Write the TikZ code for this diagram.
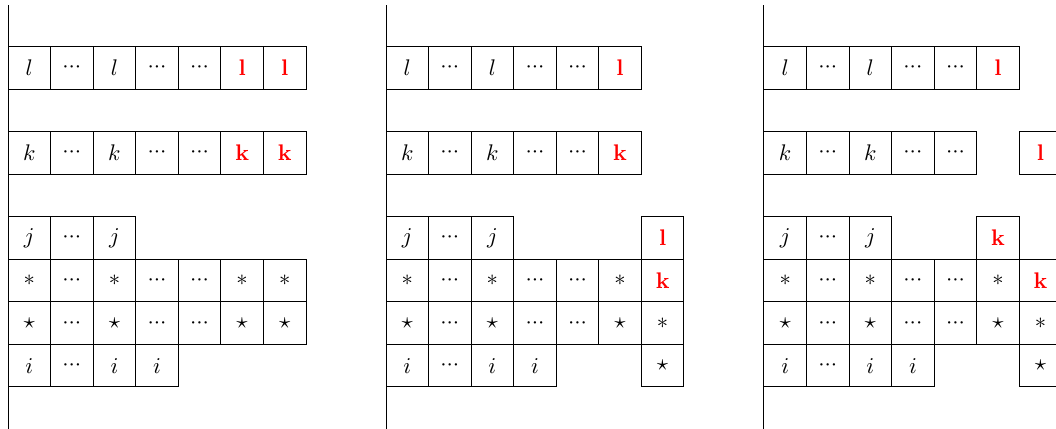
\documentclass[tikz,border=0pt]{standalone}
\usepackage{xcolor}
\usepackage{tikz}
\usepackage{amsmath}
\usepackage{amssymb}
\usetikzlibrary{positioning}
\definecolor{blkHi}{HTML}{FF0000}
\newcommand{\hl}[1]{\textcolor{blkHi}{\mathbf{#1}}}
\newcommand{\dts}{{\cdot}{\cdot}{\cdot}}
\tikzset{
  cell/.style={draw, minimum size=6.62mm, inner sep=0pt, outer sep=0pt,
    anchor=south west, font=\normalsize},
  axisline/.style={black}
}

\begin{document}
\begin{tikzpicture}[x=6.62mm, y=6.62mm]
  \useasboundingbox (-0.188,-0.987) rectangle (24.62,9.09);

  % initial blocks
  \begin{scope}
    \coordinate (a-top) at (0,8.97); \coordinate (a-bot) at (0,-0.987);
    \draw[axisline] (a-top) -- (a-bot);
    \foreach \t [count=\n] in {l,\dts,l,\dts,\dts,\hl{l},\hl{l}}
      \node[cell] (a-l\n) at (\n-1,7) {$\t$};
    \foreach \t [count=\n] in {k,\dts,k,\dts,\dts,\hl{k},\hl{k}}
      \node[cell] (a-k\n) at (\n-1,5) {$\t$};
    \foreach \t [count=\n] in {j,\dts,j}
      \node[cell] (a-j\n) at (\n-1,3) {$\t$};
    \foreach \t [count=\n] in {*,\dts,*,\dts,\dts,*,*}
      \node[cell] (a-s\n) at (\n-1,2) {$\t$};
    \foreach \t [count=\n] in {\star,\dts,\star,\dts,\dts,\star,\star}
      \node[cell] (a-t\n) at (\n-1,1) {$\t$};
    \foreach \t [count=\n] in {i,\dts,i,i}
      \node[cell] (a-i\n) at (\n-1,0) {$\t$};
  \end{scope}

  % after first move
  \begin{scope}[shift={(8.879,0)}]
    \coordinate (b-top) at (0,8.97); \coordinate (b-bot) at (0,-0.987);
    \draw[axisline] (b-top) -- (b-bot);
    \foreach \t [count=\n] in {l,\dts,l,\dts,\dts,\hl{l}}
      \node[cell] (b-l\n) at (\n-1,7) {$\t$};
    \foreach \t [count=\n] in {k,\dts,k,\dts,\dts,\hl{k}}
      \node[cell] (b-k\n) at (\n-1,5) {$\t$};
    \foreach \t [count=\n] in {j,\dts,j}
      \node[cell] (b-j\n) at (\n-1,3) {$\t$};
    \node[cell] (b-j7) at (6,3) {$\hl{l}$};
    \foreach \t [count=\n] in {*,\dts,*,\dts,\dts,*,\hl{k}}
      \node[cell] (b-s\n) at (\n-1,2) {$\t$};
    \foreach \t [count=\n] in {\star,\dts,\star,\dts,\dts,\star,*}
      \node[cell] (b-t\n) at (\n-1,1) {$\t$};
    \foreach \t [count=\n] in {i,\dts,i,i}
      \node[cell] (b-i\n) at (\n-1,0) {$\t$};
    \node[cell] (b-i7) at (6,0) {$\star$};
  \end{scope}

  % after second move
  \begin{scope}[shift={(17.758,0)}]
    \coordinate (c-top) at (0,8.97); \coordinate (c-bot) at (0,-0.987);
    \draw[axisline] (c-top) -- (c-bot);
    \foreach \t [count=\n] in {l,\dts,l,\dts,\dts,\hl{l}}
      \node[cell] (c-l\n) at (\n-1,7) {$\t$};
    \foreach \t [count=\n] in {k,\dts,k,\dts,\dts}
      \node[cell] (c-k\n) at (\n-1,5) {$\t$};
    \node[cell] (c-k7) at (6,5) {$\hl{l}$};
    \foreach \t [count=\n] in {j,\dts,j}
      \node[cell] (c-j\n) at (\n-1,3) {$\t$};
    \node[cell] (c-j6) at (5,3) {$\hl{k}$};
    \foreach \t [count=\n] in {*,\dts,*,\dts,\dts,*,\hl{k}}
      \node[cell] (c-s\n) at (\n-1,2) {$\t$};
    \foreach \t [count=\n] in {\star,\dts,\star,\dts,\dts,\star,*}
      \node[cell] (c-t\n) at (\n-1,1) {$\t$};
    \foreach \t [count=\n] in {i,\dts,i,i}
      \node[cell] (c-i\n) at (\n-1,0) {$\t$};
    \node[cell] (c-i7) at (6,0) {$\star$};
  \end{scope}
\end{tikzpicture}
\end{document}
